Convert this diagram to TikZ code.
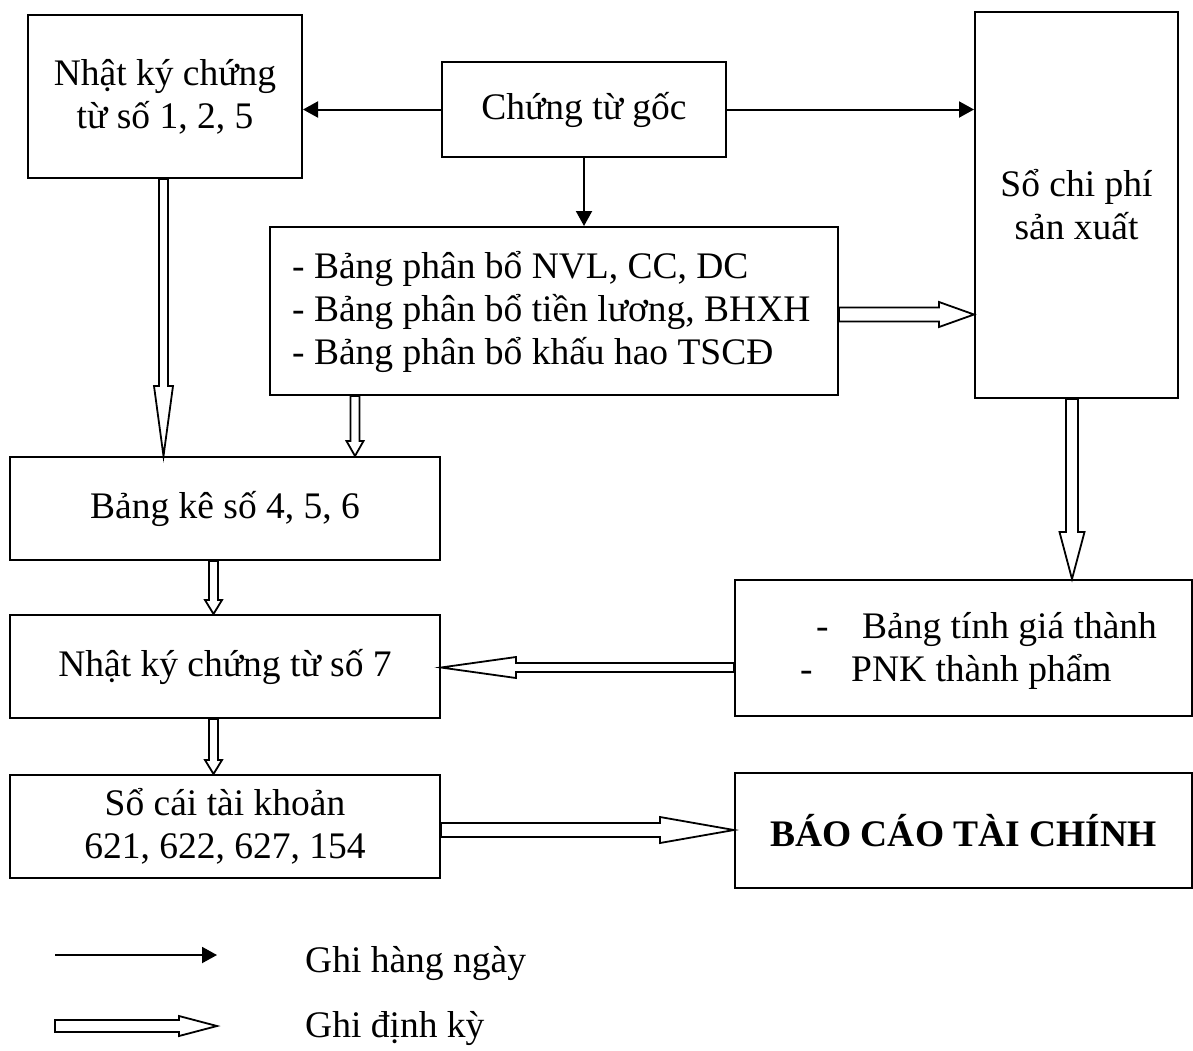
\documentclass[tikz,border=0pt]{standalone}
\usepackage{fontspec}
\setmainfont{Liberation Serif}
\usetikzlibrary{arrows.meta,calc}

\tikzset{
  box/.style={draw, line width=2pt, inner sep=0pt, align=center},
  txt/.style={inner sep=0pt, align=left},
  daily/.style={line width=2pt, -{Triangle[length=15pt,width=16pt]}},
  hollow/.style={draw, line width=1.8pt, fill=white, line join=miter},
}

% Outlined block arrow: from, to, half shaft width, half head width, head length
\newcommand{\hollowarrow}[5]{%
  \coordinate (ha-a) at (#1);
  \coordinate (ha-b) at (#2);
  \coordinate (ha-h) at ($(ha-b)!#5!(ha-a)$);
  \draw[hollow] ($(ha-a)!#3!90:(ha-b)$) -- ($(ha-h)!#3!90:(ha-b)$)
    -- ($(ha-h)!#4!90:(ha-b)$) -- (ha-b) -- ($(ha-h)!#4!-90:(ha-b)$)
    -- ($(ha-h)!#3!-90:(ha-b)$) -- ($(ha-a)!#3!-90:(ha-b)$) -- cycle;
}

\begin{document}
\begin{tikzpicture}[x=1pt, y=-1pt, font=\fontsize{37.5}{43}\selectfont]
\useasboundingbox (0,0) rectangle (1193,1050);

% boxes
\node[box, minimum width=274pt, minimum height=163pt] (nk1) at (165,96.5)
  {Nhật ký chứng\\từ số 1, 2, 5};
\node[box, minimum width=284pt, minimum height=95pt] (ctg) at (584,109.5)
  {Chứng từ gốc};
\node[box, minimum width=203pt, minimum height=386pt] (scp) at (1076.5,205)
  {Sổ chi phí\\sản xuất};
\node[box, minimum width=568pt, minimum height=168pt] (bpb) at (554,311) {};
\node[txt, anchor=west] (bpb-t) at (292,312)
  {- Bảng phân bổ NVL, CC, DC\\- Bảng phân bổ tiền lương, BHXH\\- Bảng phân bổ khấu hao TSCĐ};
\node[box, minimum width=430pt, minimum height=103pt] (bke) at (225,508.5)
  {Bảng kê số 4, 5, 6};
\node[box, minimum width=430pt, minimum height=103pt] (nk7) at (225,666.5)
  {Nhật ký chứng từ số 7};
\node[box, minimum width=457pt, minimum height=136pt] (btg) at (963.5,648) {};
\node[txt, anchor=west] (btg-t) at (800,651)
  {\makebox[62pt][l]{\hspace*{16pt}-}Bảng tính giá thành\\\makebox[51pt][l]{-}PNK thành phẩm};
\node[box, minimum width=430pt, minimum height=103pt] (sct) at (225,826.5)
  {Sổ cái tài khoản\\621, 622, 627, 154};
\node[box, minimum width=457pt, minimum height=115pt] (bctc) at (963.5,830.5)
  {\textbf{BÁO CÁO TÀI CHÍNH}};

% daily postings
\draw[daily] (ctg.west) -- (ctg.west -| nk1.east);
\draw[daily] (ctg.east) -- (ctg.east -| scp.west);
\draw[daily] (ctg.south) -- (ctg.south |- bpb.north);

% periodic postings
\coordinate (x1) at (163.5,0);
\coordinate (x2) at (355,0);
\coordinate (x3) at (213.5,0);
\coordinate (x4) at (1072,0);
\coordinate (y1) at (0,314.5);
\coordinate (y2) at (0,667.5);
\coordinate (y3) at (0,830);
\hollowarrow{nk1.south -| x1}{bke.north -| x1}{4.5pt}{9.5pt}{70pt}
\hollowarrow{bpb.south -| x2}{bke.north -| x2}{4.5pt}{8.5pt}{15pt}
\hollowarrow{bpb.east |- y1}{scp.west |- y1}{7pt}{12.5pt}{35pt}
\hollowarrow{scp.south -| x4}{btg.north -| x4}{6pt}{12.5pt}{47pt}
\hollowarrow{btg.west |- y2}{nk7.east |- y2}{4.5pt}{10.5pt}{75pt}
\hollowarrow{bke.south -| x3}{nk7.north -| x3}{4.5pt}{8.5pt}{14pt}
\hollowarrow{nk7.south -| x3}{sct.north -| x3}{4.5pt}{8.5pt}{14pt}
\hollowarrow{sct.east |- y3}{bctc.west |- y3}{7pt}{13pt}{74pt}

% legend
\coordinate (la) at (55,955);
\coordinate (lb) at (217,955);
\coordinate (lc) at (55,1026);
\coordinate (ld) at (217,1026);
\draw[daily] (la) -- (lb);
\hollowarrow{lc}{ld}{6pt}{10pt}{38pt}
\node[txt, anchor=west] (l1) at (305,963) {Ghi hàng ngày};
\node[txt, anchor=west] (l2) at (305,1028) {Ghi định kỳ};
\end{tikzpicture}
\end{document}
